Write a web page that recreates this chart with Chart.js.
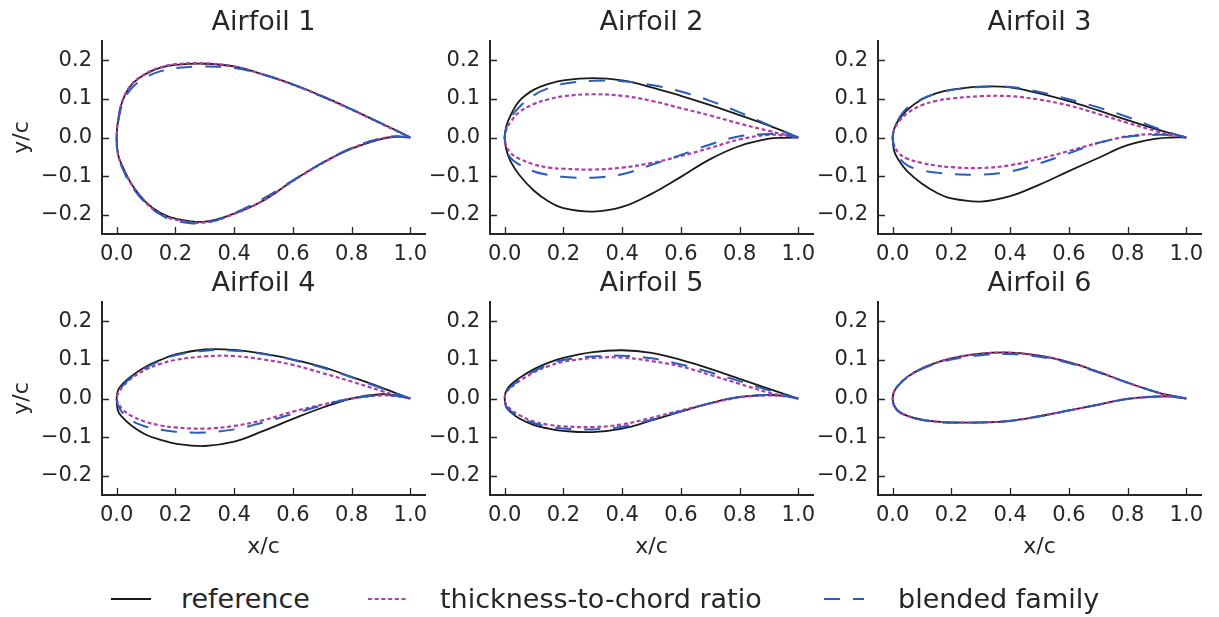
<!DOCTYPE html>
<html>
<head>
<meta charset="utf-8">
<script src="https://cdn.jsdelivr.net/npm/chart.js@4.4.1/dist/chart.umd.min.js"></script>
<style>
  html, body { margin: 0; padding: 0; background: #ffffff; }
  body { width: 1219px; height: 617px; position: relative; overflow: hidden; font-family: "DejaVu Sans", sans-serif; color: #262626; }
  canvas.panel { position: absolute; }
  .leg-line { position: absolute; }
  .leg-text { position: absolute; font-size: 27px; line-height: 30px; white-space: nowrap; color: #262626; }
</style>
</head>
<body>
<script>
// ---------------- data ----------------
const stations = [0, 0.005, 0.02, 0.05, 0.1, 0.15, 0.2, 0.3, 0.4, 0.5, 0.6, 0.7, 0.8, 0.9, 0.95, 1.0];
const xTickValues = [0, 0.2, 0.4, 0.6, 0.8, 1.0];
const yTickValues = [-0.2, -0.1, 0, 0.1, 0.2];
const panelTitles = ['Airfoil 1', 'Airfoil 2', 'Airfoil 3', 'Airfoil 4', 'Airfoil 5', 'Airfoil 6'];
const seriesNames = ['reference', 'thickness-to-chord ratio', 'blended family'];

// Airfoil 1
const ref1U = [0, 0.045, 0.095, 0.136, 0.165, 0.181, 0.188, 0.191, 0.184, 0.163, 0.138, 0.107, 0.073, 0.037, 0.019, 0];
const ref1L = [0, -0.045, -0.075, -0.12, -0.168, -0.196, -0.21, -0.218, -0.197, -0.163, -0.112, -0.066, -0.029, -0.004, 0.002, 0];
const tc1U  = [0, 0.046, 0.096, 0.137, 0.166, 0.182, 0.19, 0.192, 0.184, 0.163, 0.137, 0.106, 0.072, 0.036, 0.018, 0];
const tc1L  = [0, -0.046, -0.076, -0.121, -0.17, -0.198, -0.213, -0.22, -0.198, -0.163, -0.113, -0.067, -0.028, -0.003, 0.002, 0];
const bl1U  = [0, 0.04, 0.088, 0.127, 0.156, 0.172, 0.18, 0.184, 0.18, 0.163, 0.137, 0.106, 0.073, 0.037, 0.019, 0];
const bl1L  = [0, -0.048, -0.08, -0.125, -0.171, -0.2, -0.216, -0.221, -0.196, -0.158, -0.111, -0.066, -0.027, -0.002, 0.003, 0];
// Airfoil 2
const ref2U = [0, 0.028, 0.057, 0.095, 0.124, 0.139, 0.148, 0.154, 0.148, 0.13, 0.108, 0.084, 0.058, 0.031, 0.016, 0];
const ref2L = [0, -0.03, -0.062, -0.097, -0.138, -0.166, -0.183, -0.192, -0.18, -0.146, -0.102, -0.056, -0.022, -0.003, -0.001, 0];
const tc2U  = [0, 0.02, 0.04, 0.066, 0.087, 0.099, 0.107, 0.112, 0.108, 0.095, 0.076, 0.057, 0.036, 0.017, 0.008, 0];
const tc2L  = [0, -0.02, -0.04, -0.055, -0.07, -0.078, -0.081, -0.083, -0.078, -0.066, -0.048, -0.027, -0.005, 0.007, 0.005, 0];
const bl2U  = [0, 0.022, 0.05, 0.079, 0.11, 0.128, 0.139, 0.147, 0.146, 0.136, 0.119, 0.095, 0.065, 0.032, 0.016, 0];
const bl2L  = [0, -0.025, -0.053, -0.07, -0.088, -0.097, -0.102, -0.104, -0.095, -0.071, -0.045, -0.018, 0.003, 0.009, 0.008, 0];
// Airfoil 3
const ref3U = [0, 0.022, 0.045, 0.072, 0.099, 0.115, 0.124, 0.132, 0.13, 0.114, 0.094, 0.07, 0.045, 0.021, 0.01, 0];
const ref3L = [0, -0.035, -0.058, -0.088, -0.12, -0.143, -0.158, -0.166, -0.152, -0.122, -0.087, -0.053, -0.02, -0.003, 0, 0];
const tc3U  = [0, 0.02, 0.04, 0.063, 0.084, 0.095, 0.101, 0.107, 0.107, 0.098, 0.083, 0.061, 0.038, 0.016, 0.007, 0];
const tc3L  = [0, -0.02, -0.04, -0.055, -0.066, -0.073, -0.077, -0.079, -0.072, -0.055, -0.035, -0.014, 0.003, 0.009, 0.006, 0];
const bl3U  = [0, 0.02, 0.048, 0.077, 0.1, 0.114, 0.123, 0.131, 0.131, 0.118, 0.099, 0.078, 0.053, 0.024, 0.011, 0];
const bl3L  = [0, -0.025, -0.05, -0.072, -0.085, -0.091, -0.095, -0.096, -0.088, -0.067, -0.041, -0.014, 0.002, 0.007, 0.006, 0];
// Airfoil 4
const ref4U = [0, 0.022, 0.038, 0.058, 0.083, 0.1, 0.114, 0.127, 0.126, 0.116, 0.101, 0.082, 0.056, 0.029, 0.014, 0];
const ref4L = [0, -0.033, -0.049, -0.07, -0.094, -0.107, -0.117, -0.123, -0.112, -0.084, -0.053, -0.024, 0.0, 0.011, 0.008, 0];
const tc4U  = [0, 0.013, 0.03, 0.052, 0.075, 0.09, 0.1, 0.109, 0.11, 0.101, 0.087, 0.066, 0.044, 0.02, 0.009, 0];
const tc4L  = [0, -0.012, -0.028, -0.045, -0.061, -0.07, -0.075, -0.078, -0.071, -0.056, -0.034, -0.016, 0.0, 0.008, 0.006, 0];
const bl4U  = [0, 0.015, 0.033, 0.055, 0.08, 0.098, 0.112, 0.124, 0.124, 0.115, 0.1, 0.08, 0.055, 0.027, 0.013, 0];
const bl4L  = [0, -0.018, -0.037, -0.057, -0.073, -0.081, -0.086, -0.088, -0.08, -0.062, -0.04, -0.018, 0.0, 0.009, 0.007, 0];
// Airfoil 5
const ref5U = [0, 0.02, 0.035, 0.053, 0.076, 0.093, 0.105, 0.12, 0.125, 0.118, 0.1, 0.077, 0.051, 0.025, 0.012, 0];
const ref5L = [0, -0.022, -0.035, -0.052, -0.069, -0.078, -0.084, -0.087, -0.078, -0.057, -0.034, -0.012, 0.004, 0.009, 0.007, 0];
const tc5U  = [0, 0.015, 0.028, 0.045, 0.068, 0.084, 0.095, 0.105, 0.106, 0.097, 0.083, 0.061, 0.038, 0.015, 0.007, 0];
const tc5L  = [0, -0.015, -0.028, -0.043, -0.06, -0.068, -0.072, -0.074, -0.067, -0.05, -0.031, -0.013, 0.003, 0.008, 0.006, 0];
const bl5U  = [0, 0.016, 0.03, 0.048, 0.071, 0.088, 0.1, 0.109, 0.111, 0.104, 0.088, 0.068, 0.045, 0.021, 0.01, 0];
const bl5L  = [0, -0.02, -0.032, -0.048, -0.064, -0.073, -0.078, -0.08, -0.073, -0.055, -0.033, -0.012, 0.004, 0.009, 0.007, 0];
// Airfoil 6
const ref6U = [0, 0.018, 0.035, 0.056, 0.078, 0.093, 0.104, 0.116, 0.119, 0.111, 0.094, 0.069, 0.041, 0.016, 0.007, 0];
const ref6L = [0, -0.018, -0.033, -0.045, -0.055, -0.06, -0.062, -0.062, -0.058, -0.046, -0.031, -0.016, -0.001, 0.005, 0.005, 0];
const tc6U  = [0, 0.018, 0.035, 0.056, 0.078, 0.093, 0.104, 0.116, 0.118, 0.111, 0.094, 0.069, 0.041, 0.016, 0.007, 0];
const tc6L  = [0, -0.018, -0.033, -0.045, -0.055, -0.06, -0.062, -0.062, -0.058, -0.046, -0.031, -0.016, -0.001, 0.005, 0.005, 0];
const bl6U  = [0, 0.017, 0.034, 0.055, 0.077, 0.091, 0.101, 0.112, 0.115, 0.108, 0.092, 0.068, 0.041, 0.016, 0.007, 0];
const bl6L  = [0, -0.019, -0.034, -0.046, -0.056, -0.061, -0.063, -0.062, -0.058, -0.046, -0.031, -0.016, -0.001, 0.005, 0.005, 0];

const refUpper = [ref1U, ref2U, ref3U, ref4U, ref5U, ref6U];
const refLower = [ref1L, ref2L, ref3L, ref4L, ref5L, ref6L];
const tcUpper  = [tc1U, tc2U, tc3U, tc4U, tc5U, tc6U];
const tcLower  = [tc1L, tc2L, tc3L, tc4L, tc5L, tc6L];
const blUpper  = [bl1U, bl2U, bl3U, bl4U, bl5U, bl6U];
const blLower  = [bl1L, bl2L, bl3L, bl4L, bl5L, bl6L];

// ---------------- styling / layout ----------------
const TEXT = '#262626';
const FONT = 'DejaVu Sans';
const STYLES = [
  { color: '#1a1a1a', width: 1.8, dash: [] },
  { color: '#b03ca8', width: 2.2, dash: [4, 2.7] },
  { color: '#2b5cb8', width: 2.0, dash: [16, 13] }
];
const COL_LEFT = [102, 490, 878];
const ROW_TOP = [41, 302];
const AREA_W = 323, AREA_H = 193;
const W_Y = 100, H_T = 40, H_B = 80, PAD_R = 20;

function contour(upper, lower) {
  const pts = [];
  for (let i = stations.length - 1; i >= 0; i--) pts.push({ x: stations[i], y: upper[i] });
  for (let i = 1; i < stations.length; i++) pts.push({ x: stations[i], y: lower[i] });
  return pts;
}
function fmt(v) {
  const s = Number(v).toFixed(1);
  return s.replace('-', '\u2212');
}

const inwardTicks = {
  id: 'inwardTicks',
  afterDraw(chart) {
    const { ctx, chartArea } = chart;
    const xs = chart.scales.x, ys = chart.scales.y;
    ctx.save();
    ctx.strokeStyle = TEXT;
    ctx.lineWidth = 1.3;
    ctx.beginPath();
    xTickValues.forEach(v => {
      const px = Math.round(xs.getPixelForValue(v)) + 0.5;
      ctx.moveTo(px, chartArea.bottom);
      ctx.lineTo(px, chartArea.bottom - 7);
    });
    yTickValues.forEach(v => {
      const py = Math.round(ys.getPixelForValue(v)) + 0.5;
      ctx.moveTo(chartArea.left, py);
      ctx.lineTo(chartArea.left + 7, py);
    });
    ctx.stroke();
    ctx.restore();
  }
};

for (let p = 0; p < 6; p++) {
  const r = Math.floor(p / 3), c = p % 3;
  const cv = document.createElement('canvas');
  cv.className = 'panel';
  const w = W_Y + AREA_W + PAD_R, h = H_T + AREA_H + H_B;
  cv.width = w; cv.height = h;
  cv.style.width = w + 'px'; cv.style.height = h + 'px';
  cv.style.left = (COL_LEFT[c] - W_Y) + 'px';
  cv.style.top = (ROW_TOP[r] - H_T) + 'px';
  document.body.appendChild(cv);

  const series = [
    contour(refUpper[p], refLower[p]),
    contour(tcUpper[p], tcLower[p]),
    contour(blUpper[p], blLower[p])
  ];
  const datasets = series.map((data, i) => ({
    label: seriesNames[i],
    data,
    showLine: true,
    borderColor: STYLES[i].color,
    borderWidth: STYLES[i].width,
    borderDash: STYLES[i].dash,
    borderCapStyle: 'butt',
    borderJoinStyle: 'round',
    pointRadius: 0,
    pointHoverRadius: 0,
    tension: 0.4,
    fill: false,
    order: 3 - i,
    xAxisID: 'x',
    yAxisID: 'y'
  }));

  new Chart(cv, {
    type: 'scatter',
    data: { datasets },
    options: {
      responsive: false,
      animation: false,
      events: [],
      layout: { padding: { left: 0, right: PAD_R, top: 0, bottom: 0 } },
      plugins: { legend: { display: false }, tooltip: { enabled: false }, title: { display: false } },
      scales: {
        x: {
          type: 'linear', position: 'bottom', min: -0.05, max: 1.05,
          afterBuildTicks: s => { s.ticks = xTickValues.map(v => ({ value: v })); },
          afterFit: s => { s.height = H_B; s.paddingLeft = 0; s.paddingRight = 0; },
          grid: { display: false, drawTicks: false },
          border: { display: true, color: TEXT, width: 2 },
          ticks: { color: TEXT, font: { family: FONT, size: 21 }, padding: 8, maxRotation: 0, autoSkip: false, callback: v => fmt(v) },
          title: { display: r === 1, text: 'x/c', color: TEXT, font: { family: FONT, size: 22 }, padding: { top: 0, bottom: 15 } }
        },
        xTop: {
          type: 'linear', position: 'top', min: -0.05, max: 1.05,
          afterFit: s => { s.height = H_T; s.paddingLeft = 0; s.paddingRight = 0; },
          grid: { display: false, drawTicks: false },
          border: { display: false },
          ticks: { display: false },
          title: { display: true, text: panelTitles[p], color: TEXT, font: { family: FONT, size: 27 }, padding: { top: 6, bottom: 0 } }
        },
        y: {
          type: 'linear', position: 'left', min: -0.25, max: 0.25,
          afterBuildTicks: s => { s.ticks = yTickValues.map(v => ({ value: v })); },
          afterFit: s => { s.width = W_Y; s.paddingTop = 0; s.paddingBottom = 0; },
          grid: { display: false, drawTicks: false },
          border: { display: true, color: TEXT, width: 2 },
          ticks: { color: TEXT, font: { family: FONT, size: 21 }, padding: 10, autoSkip: false, callback: v => fmt(v) },
          title: { display: c === 0, text: 'y/c', color: TEXT, font: { family: FONT, size: 22 }, padding: { top: 7, bottom: 0 } }
        }
      }
    },
    plugins: [inwardTicks]
  });
}

// ---------------- legend ----------------
const legendItems = [
  { line: [111, 151], text: 181 },
  { line: [368, 408], text: 440 },
  { line: [824, 864], text: 898 }
];
legendItems.forEach((it, i) => {
  const st = STYLES[i];
  const svgNS = 'http://www.w3.org/2000/svg';
  const svg = document.createElementNS(svgNS, 'svg');
  svg.setAttribute('class', 'leg-line');
  svg.setAttribute('width', it.line[1] - it.line[0]);
  svg.setAttribute('height', 10);
  svg.style.left = it.line[0] + 'px';
  svg.style.top = '594px';
  const ln = document.createElementNS(svgNS, 'line');
  ln.setAttribute('x1', 0); ln.setAttribute('y1', 5);
  ln.setAttribute('x2', it.line[1] - it.line[0]); ln.setAttribute('y2', 5);
  ln.setAttribute('stroke', st.color);
  ln.setAttribute('stroke-width', st.width);
  if (st.dash.length) ln.setAttribute('stroke-dasharray', st.dash.join(' '));
  svg.appendChild(ln);
  document.body.appendChild(svg);
  const t = document.createElement('div');
  t.className = 'leg-text';
  t.textContent = seriesNames[i];
  t.style.left = it.text + 'px';
  t.style.top = '584px';
  document.body.appendChild(t);
});
</script>
</body>
</html>
